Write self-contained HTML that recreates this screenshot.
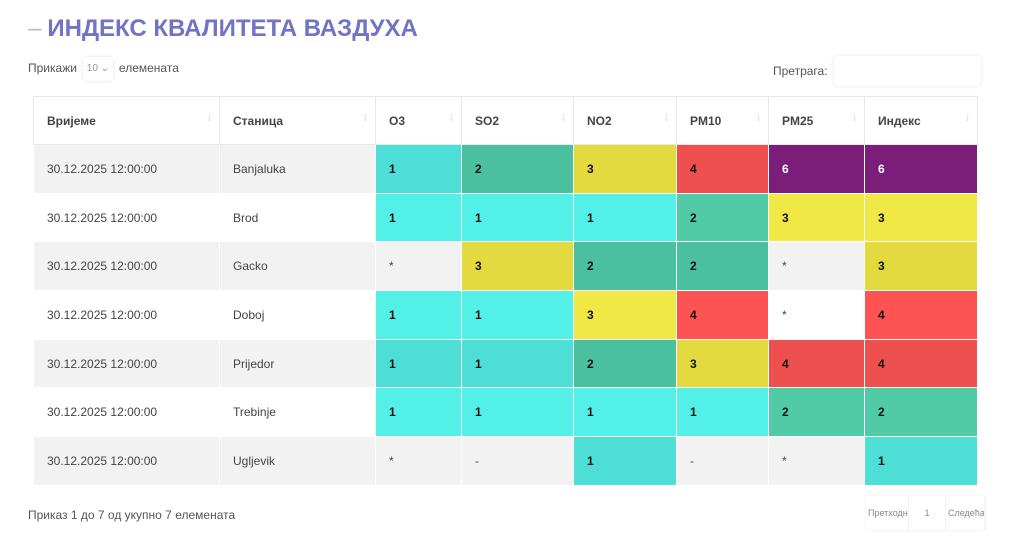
<!DOCTYPE html><html><head><meta charset="utf-8"><style>
body{margin:0;background:#fff;font-family:"Liberation Sans",sans-serif;width:1024px;height:555px;position:relative;overflow:hidden;color:#555}
.t{position:absolute;left:28px;top:15px;font-size:24px;font-weight:bold;color:#7173c4;letter-spacing:0px}
.t span{color:#bbb;font-weight:normal;margin-right:6px}
.sh{position:absolute;left:28px;top:57px;font-size:12px;color:#555}
.sel{display:inline-block;width:30px;height:24px;line-height:24px;font-size:10px;color:#999;box-shadow:0 0 3px #ddd;border-radius:4px;text-align:center;margin:0 6px;vertical-align:middle}
.sr{position:absolute;left:773px;top:64px;font-size:12px}
.inp{position:absolute;left:834px;top:56px;width:147px;height:30px;border-radius:5px;box-shadow:0 0 4px #e4e4e4}
table{position:absolute;left:33px;top:96px;border-collapse:collapse;font-size:12px}
td,th{padding:0 0 0 13px;border:1px solid #e8e8e8;height:48.7px;text-align:left;box-sizing:border-box}
th{font-weight:bold;color:#444;height:48px;position:relative}
th:after{content:"⁝";position:absolute;right:8px;top:16px;color:#ddd;font-size:10px}
td{color:#444;border-color:#fff}
tr.g td{background:#f2f2f2}
td.n{font-weight:bold;color:#111}
.c1{background:#4ddfd6!important}.c2{background:#4bc09e!important}.c3{background:#e3da3f!important}.c4{background:#ee4f4f!important}.c6{background:#7b1e7a!important;color:#fff!important}
tr:not(.g) .c1{background:#52f0e6!important}tr:not(.g) .c2{background:#51cba6!important}tr:not(.g) .c3{background:#f0e844!important}tr:not(.g) .c4{background:#fd5353!important}
.ft{position:absolute;left:28px;top:508px;font-size:12px}
.pg{position:absolute;left:866px;top:496px;height:34px;display:flex;font-size:9px;color:#888;box-shadow:0 0 4px #eee}
.pg div{padding:0 2px;line-height:34px;border-right:1px solid #f2f2f2}
</style></head><body>
<div class="t"><span>–</span>ИНДЕКС КВАЛИТЕТА ВАЗДУХА</div>
<div class="sh">Прикажи<span class="sel">10 ⌄</span>елемената</div>
<div class="sr">Претрага:</div><div class="inp"></div>
<table>
<tr><th style="width:186px">Вријеме</th><th style="width:156px">Станица</th><th style="width:86px">O3</th><th style="width:112px">SO2</th><th style="width:103px">NO2</th><th style="width:92px">PM10</th><th style="width:96px">PM25</th><th style="width:113px">Индекс</th></tr>
<tr class="g"><td>30.12.2025 12:00:00</td><td>Banjaluka</td><td class="n c1">1</td><td class="n c2">2</td><td class="n c3">3</td><td class="n c4">4</td><td class="n c6">6</td><td class="n c6">6</td></tr>
<tr><td>30.12.2025 12:00:00</td><td>Brod</td><td class="n c1">1</td><td class="n c1">1</td><td class="n c1">1</td><td class="n c2">2</td><td class="n c3">3</td><td class="n c3">3</td></tr>
<tr class="g"><td>30.12.2025 12:00:00</td><td>Gacko</td><td>*</td><td class="n c3">3</td><td class="n c2">2</td><td class="n c2">2</td><td>*</td><td class="n c3">3</td></tr>
<tr><td>30.12.2025 12:00:00</td><td>Doboj</td><td class="n c1">1</td><td class="n c1">1</td><td class="n c3">3</td><td class="n c4">4</td><td>*</td><td class="n c4">4</td></tr>
<tr class="g"><td>30.12.2025 12:00:00</td><td>Prijedor</td><td class="n c1">1</td><td class="n c1">1</td><td class="n c2">2</td><td class="n c3">3</td><td class="n c4">4</td><td class="n c4">4</td></tr>
<tr><td>30.12.2025 12:00:00</td><td>Trebinje</td><td class="n c1">1</td><td class="n c1">1</td><td class="n c1">1</td><td class="n c1">1</td><td class="n c2">2</td><td class="n c2">2</td></tr>
<tr class="g"><td>30.12.2025 12:00:00</td><td>Ugljevik</td><td>*</td><td>-</td><td class="n c1">1</td><td>-</td><td>*</td><td class="n c1">1</td></tr>
</table>
<div class="ft">Приказ 1 до 7 од укупно 7 елемената</div>
<div class="pg"><div style="width:38px;overflow:hidden">Претходни</div><div style="width:32px;text-align:center">1</div><div style="width:34px;overflow:hidden">Следећа</div></div>
</body></html>
